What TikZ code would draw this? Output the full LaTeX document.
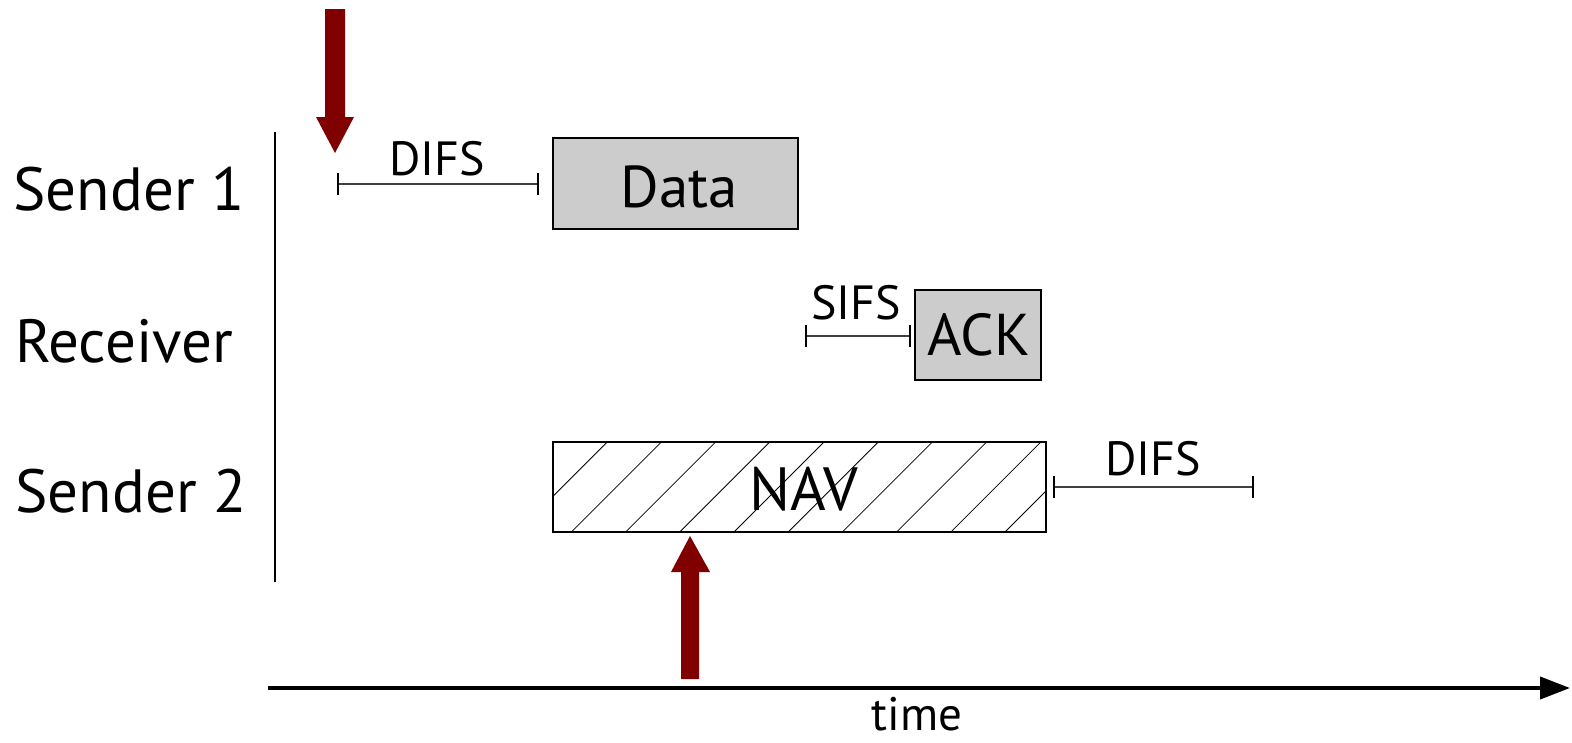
\documentclass[tikz,border=0pt]{standalone}
\usepackage{fontspec}
\setmainfont{PT Sans}
\usetikzlibrary{arrows.meta}
\definecolor{frameg}{HTML}{CCCCCC}
\definecolor{darkred}{HTML}{800000}
\tikzset{
  rowlabel/.style={anchor=base, font=\fontsize{61}{61}\selectfont},
  frame/.style={draw=black, line width=1.3pt, fill=frameg},
  framelabel/.style={anchor=base, font=\fontsize{59}{59}\selectfont},
  gaplabel/.style={anchor=base, font=\fontsize{48}{48}\selectfont},
  gapbar/.style={line width=1.5pt, draw=black!75, {Bar[width=22pt,line width=1.8pt,black]}-{Bar[width=22pt,line width=1.8pt,black]}},
  marker/.style={fill=darkred, draw=none},
  hatch/.style={line width=0.8pt}
}
\begin{document}
\begin{tikzpicture}[x=1pt, y=-1pt]
\useasboundingbox (0,0) rectangle (1572,742);

% station names
\node[rowlabel] (s1) at (129,210) {Sender 1};
\node[rowlabel] (rx) at (124,362) {Receiver};
\node[rowlabel] (s2) at (131,512) {Sender 2};

% separator between names and timeline
\draw[line width=1.3pt] (275,132) -- (275,582);

% Sender 1: DIFS then Data
\coordinate (d1a) at (337,184);
\coordinate (d1b) at (539,184);
\draw[gapbar] (d1a) -- (d1b);
\node[gaplabel] (difs1) at (437,175) {DIFS};
\draw[frame] (553,138) rectangle (798,229);
\node[framelabel] (data) at (679,207) {Data};

% Receiver: SIFS then ACK
\coordinate (sfa) at (805,336);
\coordinate (sfb) at (911,336);
\draw[gapbar] (sfa) -- (sfb);
\node[gaplabel] (sifs) at (856,319) {SIFS};
\draw[frame] (915,290) rectangle (1041,380);
\node[framelabel] (ack) at (979,355) {ACK};

% Sender 2: NAV (hatched) then DIFS
\begin{scope}
  \clip (553,442) rectangle (1046,532);
  \foreach \k in {1,...,11} {
    \pgfmathsetmacro{\c}{995+54.2*\k}
    \draw[hatch] ({\c-532},532) -- ({\c-442},442);
  }
\end{scope}
\draw[line width=1.3pt] (553,442) rectangle (1046,532);
\node[framelabel, font=\fontsize{61}{61}\selectfont] (nav) at (804,510) {NAV};
\coordinate (d2a) at (1053,487);
\coordinate (d2b) at (1254,487);
\draw[gapbar] (d2a) -- (d2b);
\node[gaplabel] (difs2) at (1153,475) {DIFS};

% event markers
\fill[marker] (325,9) -- (345,9) -- (345,117) -- (354,117) -- (335,153)
  -- (316,117) -- (325,117) -- cycle;
\fill[marker] (681,679) -- (699,679) -- (699,572) -- (710,572) -- (690,536)
  -- (671,572) -- (681,572) -- cycle;

% time axis
\coordinate (t0) at (268,688);
\coordinate (t1) at (1570,688);
\draw[line width=4pt, -{Triangle[length=30pt,width=22pt]}] (t0) -- (t1);
\node[anchor=base, font=\fontsize{47}{47}\selectfont] (time) at (917,730) {time};
\end{tikzpicture}
\end{document}
